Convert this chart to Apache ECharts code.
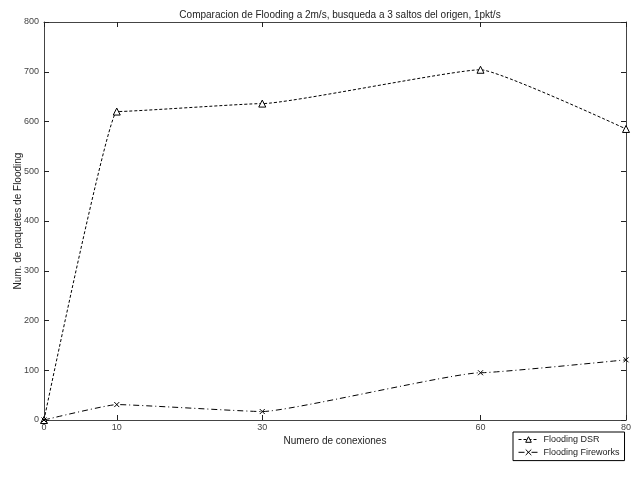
<!DOCTYPE html>
<html><head><meta charset="utf-8">
<script src="https://cdn.jsdelivr.net/npm/echarts@6/dist/echarts.min.js"></script>
<style>html,body{margin:0;padding:0;background:#fff}#c{width:633px;height:482px}</style>
</head><body><div id="c"></div>
<script>
var xTicks = [0, 10, 30, 60, 80];
var conexiones = [0, 10, 30, 60, 80];
var floodingDSR = [0, 620, 636, 704, 585];
var floodingFireworks = [0, 31, 17, 95, 121];
var seriesNames = ['Flooding DSR', 'Flooding Fireworks'];

var font = 'Liberation Sans, Arial, sans-serif';
var axisCol = '#444';
var chart = echarts.init(document.getElementById('c'));
function pairs(xs, ys){ return xs.map(function(x,i){return [x, ys[i]];}); }
chart.setOption({
  animation: false,
  backgroundColor: '#fff',
  title: {
    text: 'Comparacion de Flooding a 2m/s, busqueda a 3 saltos del origen, 1pkt/s',
    left: 335, top: 5, textAlign: 'center',
    textStyle: {fontFamily: font, fontSize: 10, fontWeight: 'normal', color: '#222'}
  },
  grid: {left: 44, right: 7, top: 22, bottom: 62, containLabel: false, outerBoundsMode: 'none'},
  legend: {
    orient: 'vertical', left: 513, top: 432,
    width: 112, height: 30,
    backgroundColor: '#fff', borderColor: '#000', borderWidth: 1,
    padding: [3, 5, 3, 5], itemGap: 3, itemWidth: 20, itemHeight: 7,
    lineStyle: {width: 1},
    itemStyle: {borderWidth: 1},
    textStyle: {fontFamily: font, fontSize: 9, color: '#222'},
    data: seriesNames
  },
  xAxis: [{
    type: 'value', min: 0, max: 80, position: 'bottom',
    name: 'Numero de conexiones', nameLocation: 'middle', nameGap: 16, nameMoveOverlap: false,
    nameTextStyle: {fontFamily: font, fontSize: 10, color: '#222'},
    axisLine: {show: true, onZero: false, lineStyle: {color: axisCol}},
    axisTick: {show: true, inside: true, length: 5, customValues: xTicks, lineStyle: {color: '#222'}},
    axisLabel: {customValues: xTicks, fontFamily: font, fontSize: 9, color: '#444', margin: 3},
    splitLine: {show: false}
  }, {
    type: 'value', min: 0, max: 80, position: 'top',
    axisLine: {show: true, onZero: false, lineStyle: {color: axisCol}},
    axisTick: {show: true, inside: true, length: 5, customValues: xTicks, lineStyle: {color: '#222'}},
    axisLabel: {show: false},
    splitLine: {show: false}
  }],
  yAxis: [{
    type: 'value', min: 0, max: 800, interval: 100, position: 'left',
    name: 'Num. de paquetes de Flooding', nameLocation: 'middle', nameGap: 21, nameMoveOverlap: false,
    nameTextStyle: {fontFamily: font, fontSize: 10, color: '#222'},
    axisLine: {show: true, onZero: false, lineStyle: {color: axisCol}},
    axisTick: {show: true, inside: true, length: 5, lineStyle: {color: '#222'}},
    axisLabel: {fontFamily: font, fontSize: 9, color: '#444', margin: 5},
    splitLine: {show: false}
  }, {
    type: 'value', min: 0, max: 800, interval: 100, position: 'right',
    axisLine: {show: true, onZero: false, lineStyle: {color: axisCol}},
    axisTick: {show: true, inside: true, length: 5, lineStyle: {color: '#222'}},
    axisLabel: {show: false},
    splitLine: {show: false}
  }],
  series: [{
    name: seriesNames[0], type: 'line', xAxisIndex: 0, yAxisIndex: 0,
    data: pairs(conexiones, floodingDSR), smooth: 0.12, smoothMonotone: 'x',
    symbol: 'triangle', symbolSize: 7,
    lineStyle: {color: '#000', width: 1, type: [3, 2]},
    itemStyle: {color: '#fff', borderColor: '#000', borderWidth: 1}
  }, {
    name: seriesNames[1], type: 'line', xAxisIndex: 0, yAxisIndex: 0,
    data: pairs(conexiones, floodingFireworks), smooth: 0.12, smoothMonotone: 'x',
    symbol: 'path://M0,0L10,10M10,0L0,10', symbolSize: 5,
    lineStyle: {color: '#000', width: 1, type: [6, 3, 1, 3]},
    itemStyle: {color: 'none', borderColor: '#000', borderWidth: 1}
  }]
});
</script></body></html>
